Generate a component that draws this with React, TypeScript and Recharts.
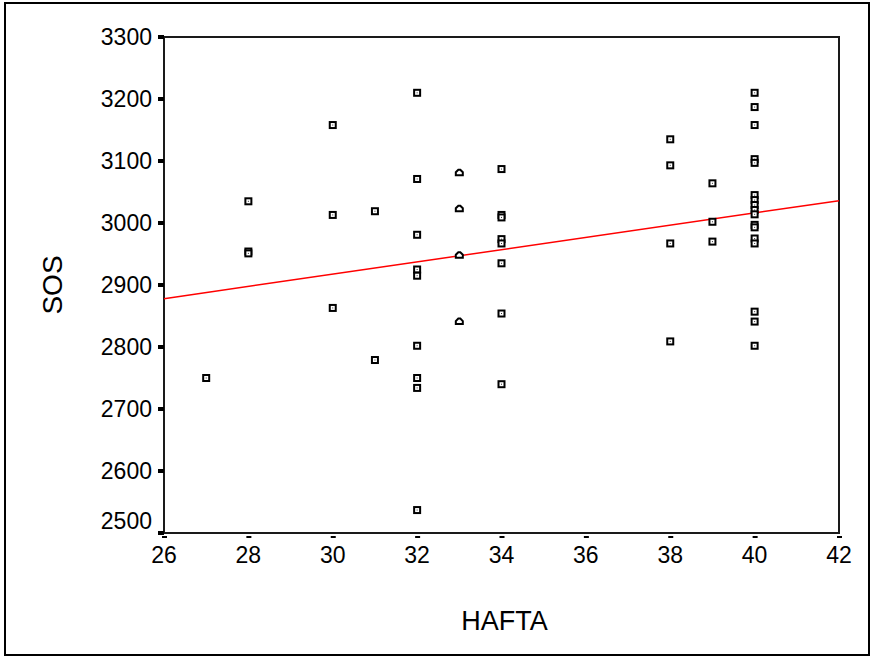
import React from 'react';
import { ScatterChart, Scatter, XAxis, YAxis, ReferenceLine, ReferenceArea, Label } from 'recharts';

// HAFTA (week) values of the square markers
const squareWeeks = [
  27,
  28, 28, 28,
  30, 30, 30,
  31, 31,
  32, 32, 32, 32, 32, 32, 32, 32, 32,
  34, 34, 34, 34, 34, 34, 34, 34,
  38, 38, 38, 38,
  39, 39, 39,
  40, 40, 40, 40, 40, 40, 40, 40, 40, 40, 40, 40, 40, 40, 40, 40, 40,
];
// SOS values of the square markers
const squareSos = [
  2750,
  3035, 2954, 2951,
  3158, 3013, 2863,
  3019, 2779,
  3210, 3071, 2981, 2925, 2915, 2802, 2750, 2734, 2537,
  3087, 3013, 3009, 2974, 2967, 2935, 2854, 2740,
  3135, 3093, 2967, 2809,
  3064, 3002, 2970,
  3210, 3187, 3158, 3103, 3097, 3045, 3037, 3029, 3021, 3014, 2997, 2993, 2975, 2967, 2857, 2841, 2802,
];
// Points drawn with the second marker shape
const otherWeeks = [33, 33, 33, 33];
const otherSos = [3081, 3023, 2948, 2841];

// Fit line end points
const fitWeeks = [26, 42];
const fitSos = [2878, 3036];

const xTicks = [26, 28, 30, 32, 34, 36, 38, 40, 42];
const yTicks = [2500, 2600, 2700, 2800, 2900, 3000, 3100, 3200, 3300];

const squareData = squareWeeks.map((w, i) => ({ hafta: w, sos: squareSos[i] }));
const otherData = otherWeeks.map((w, i) => ({ hafta: w, sos: otherSos[i] }));

const FONT = '"Liberation Sans", Arial, sans-serif';

const SquareMarker = (props: any) => {
  const { cx, cy } = props;
  if (cx == null || cy == null) return null;
  return (
    <g>
      <rect x={cx - 3} y={cy - 3} width={6} height={6} fill="#fff" stroke="#000" strokeWidth={2} />
      <rect x={cx - 0.5} y={cy - 0.5} width={1} height={1} fill="#333" />
    </g>
  );
};

const HouseMarker = (props: any) => {
  const { cx, cy } = props;
  if (cx == null || cy == null) return null;
  const d = `M${cx - 3.5},${cy + 2.5} L${cx - 3.5},${cy - 0.5} L${cx - 1},${cy - 3} L${cx + 1},${cy - 3} L${cx + 3.5},${cy - 0.5} L${cx + 3.5},${cy + 2.5} Z`;
  return <path d={d} fill="#fff" stroke="#000" strokeWidth={2} />;
};

const XTick = (props: any) => {
  const { x, y, payload } = props;
  return (
    <g>
      <rect x={x - 2} y={y + 3} width={5} height={2} fill="#000" />
      <text x={x} y={y + 30} textAnchor="middle" fontFamily={FONT} fontSize={23} fill="#000">
        {payload.value}
      </text>
    </g>
  );
};

const YTick = (props: any) => {
  const { x, y, payload } = props;
  const shift = payload.value === 2500 ? -12 : 0;
  return (
    <g>
      <rect x={x - 6} y={y - 2} width={6} height={4} fill="#000" />
      <text x={x - 12} y={y + 8 + shift} textAnchor="end" fontFamily={FONT} fontSize={23} fill="#000">
        {payload.value}
      </text>
    </g>
  );
};

const XTitle = (props: any) => {
  const vb = props.viewBox || {};
  return (
    <text x={vb.x + vb.width / 2 + 3} y={vb.y + 97} textAnchor="middle" fontFamily={FONT} fontSize={27} fill="#000">
      HAFTA
    </text>
  );
};

const YTitle = (props: any) => {
  const vb = props.viewBox || {};
  const cy = vb.y + vb.height / 2;
  return (
    <text x={62} y={cy} textAnchor="middle" fontFamily={FONT} fontSize={28} fill="#000" transform={`rotate(-90, 62, ${cy})`}>
      SOS
    </text>
  );
};

export default function App() {
  return (
    <div style={{ position: 'absolute', left: 0, top: 0, width: 874, height: 657, background: '#fff' }}>
      <ScatterChart width={874} height={657} margin={{ top: 37, right: 35, bottom: 84, left: 64 }}>
        <XAxis
          type="number"
          dataKey="hafta"
          domain={[26, 42]}
          ticks={xTicks}
          interval={0}
          allowDataOverflow
          height={40}
          tickSize={0}
          tickMargin={0}
          tickLine={false}
          axisLine={false}
          tick={<XTick />}
        >
          <Label content={<XTitle />} />
        </XAxis>
        <YAxis
          type="number"
          dataKey="sos"
          domain={[2500, 3300]}
          ticks={yTicks}
          interval={0}
          allowDataOverflow
          width={100}
          tickSize={0}
          tickMargin={0}
          tickLine={false}
          axisLine={false}
          tick={<YTick />}
        >
          <Label content={<YTitle />} />
        </YAxis>
        <ReferenceArea x1={26} x2={42} y1={2500} y2={3300} fill="none" stroke="#1a1a1a" strokeWidth={2} ifOverflow="visible" />
        <ReferenceLine
          segment={[
            { x: fitWeeks[0], y: fitSos[0] },
            { x: fitWeeks[1], y: fitSos[1] },
          ]}
          stroke="#ff0000"
          strokeWidth={1.5}
          ifOverflow="visible"
        />
        <Scatter data={squareData} shape={<SquareMarker />} isAnimationActive={false} />
        <Scatter data={otherData} shape={<HouseMarker />} isAnimationActive={false} />
      </ScatterChart>
      <div
        style={{
          position: 'absolute',
          left: 4,
          top: 2,
          width: 866,
          height: 654,
          border: '2px solid #000',
          boxSizing: 'border-box',
          pointerEvents: 'none',
        }}
      />
    </div>
  );
}
